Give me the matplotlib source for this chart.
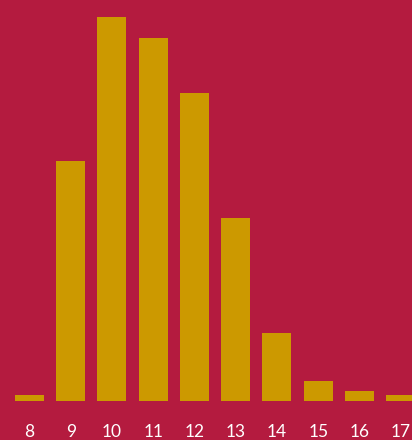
import matplotlib
matplotlib.use("Agg")
import matplotlib.pyplot as plt

categories = [8, 9, 10, 11, 12, 13, 14, 15, 16, 17]
values = [6, 240, 384, 363, 308, 183, 68, 20, 10, 6]

bg = "#b41b3f"
bar_color = "#cc9900"

fig = plt.figure(figsize=(4.12, 4.4), dpi=100)
fig.patch.set_facecolor(bg)
ax = fig.add_axes([0, 39 / 440, 1, 401 / 440])
ax.set_facecolor(bg)

ax.bar(categories, values, width=0.703, color=bar_color)
ax.set_xlim(7.285, 17.273)
ax.set_ylim(0, 401)

ax.set_xticks(categories)
ax.set_xticklabels([str(c) for c in categories], color="white",
                   fontsize=12.5, family=["Lato", "DejaVu Sans"])
ax.tick_params(axis="x", length=0, pad=16.5)
ax.set_yticks([])
for s in ax.spines.values():
    s.set_visible(False)

fig.savefig("out.png", dpi=100, facecolor=bg)
